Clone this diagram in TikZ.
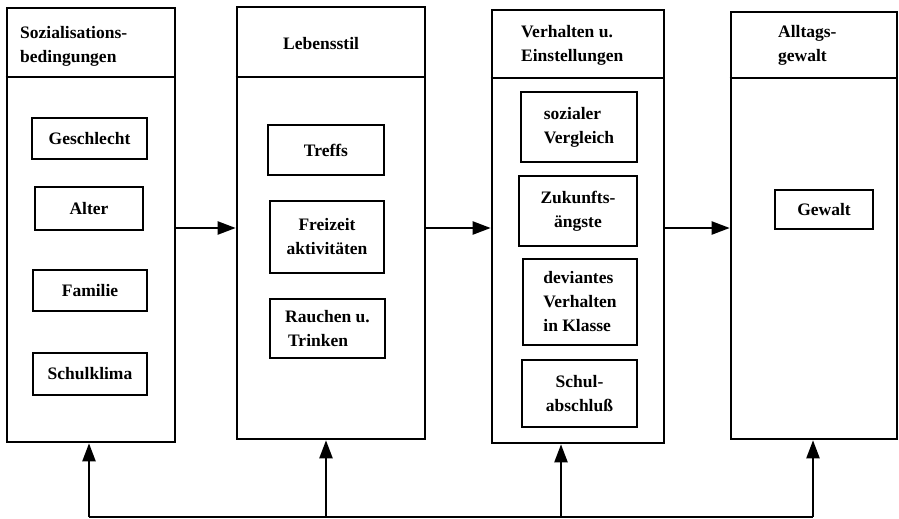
\documentclass[tikz,border=0pt]{standalone}
\usepackage{fontspec}
\setmainfont{Liberation Serif}
\usetikzlibrary{arrows.meta}

\begin{document}
\begin{tikzpicture}[x=1pt,y=-1pt,
   font=\bfseries\fontsize{17.5}{24}\selectfont,
   huelle/.style={draw,line width=2.6pt,inner sep=0pt},
   feld/.style={draw,line width=2.4pt,inner sep=0pt},
   kopf/.style={inner sep=0pt,anchor=west,align=left},
   pfeil/.style={line width=2.2pt,-{Triangle[length=18pt,width=13pt]}}]
\useasboundingbox (0,0) rectangle (899,519);
\node[huelle,minimum width=168pt,minimum height=434pt] (sozial) at (91,225) {};
\node[huelle,minimum width=188pt,minimum height=432pt] (lebensstil) at (331,223) {};
\node[huelle,minimum width=172pt,minimum height=433pt] (verhalten) at (578,226.5) {};
\node[huelle,minimum width=166pt,minimum height=427pt] (alltag) at (814,225.5) {};
\draw[line width=2.6pt] (sozial.west |- 0,77) -- (sozial.east |- 0,77);
\draw[line width=2.6pt] (lebensstil.west |- 0,77) -- (lebensstil.east |- 0,77);
\draw[line width=2.6pt] (verhalten.west |- 0,78) -- (verhalten.east |- 0,78);
\draw[line width=2.6pt] (alltag.west |- 0,78) -- (alltag.east |- 0,78);
\node[kopf] (kopfsozial) at (20,46) {Sozialisations-\\bedingungen};
\node[kopf] (kopfleben) at (283,44) {Lebensstil};
\node[kopf] (kopfverh) at (521,45) {Verhalten u.\\Einstellungen};
\node[kopf] (kopfalltag) at (778,45) {Alltags-\\gewalt};
\node[feld,minimum width=115pt,minimum height=41pt] (geschlecht) at (89.5,138.5) {Geschlecht};
\node[feld,minimum width=108pt,minimum height=43pt] (alter) at (89,208.5) {Alter};
\node[feld,minimum width=114pt,minimum height=41pt] (familie) at (90,290.5) {Familie};
\node[feld,minimum width=114pt,minimum height=42pt] (schulklima) at (90,374) {Schulklima};
\node[feld,minimum width=116pt,minimum height=50pt] (treffs) at (326,150) {Treffs};
\node[feld,minimum width=114pt,minimum height=72pt,align=center] (freizeit) at (327,237) {Freizeit\\aktivitäten};
\node[feld,minimum width=115pt,minimum height=59pt,align=left] (rauchen) at (327.5,328.5) {Rauchen u.\\\,Trinken};
\node[feld,minimum width=116pt,minimum height=70pt,align=left] (vergleich) at (579,127) {sozialer\\Vergleich};
\node[feld,minimum width=118pt,minimum height=70pt,align=center] (zukunft) at (578,211) {Zukunfts-\\ängste};
\node[feld,minimum width=114pt,minimum height=86pt,align=left] (deviant) at (580,302) {deviantes\\Verhalten\\in Klasse};
\node[feld,minimum width=115pt,minimum height=67pt,align=center] (abschluss) at (579.5,393.5) {Schul-\\abschluß};
\node[feld,minimum width=98pt,minimum height=39pt] (gewalt) at (824,209.5) {Gewalt};
\draw[pfeil] (sozial.east |- 0,228) -- (lebensstil.west |- 0,228);
\draw[pfeil] (lebensstil.east |- 0,228) -- (verhalten.west |- 0,228);
\draw[pfeil] (verhalten.east |- 0,228) -- (alltag.west |- 0,228);
\coordinate (rueck1) at (89,517);
\coordinate (rueck2) at (326,517);
\coordinate (rueck3) at (561,517);
\coordinate (rueck4) at (813,517);
\draw[line width=2pt] (rueck1) -- (rueck4);
\draw[pfeil] (rueck1) -- (sozial.south -| rueck1);
\draw[pfeil] (rueck2) -- (lebensstil.south -| rueck2);
\draw[pfeil] (rueck3) -- (verhalten.south -| rueck3);
\draw[pfeil] (rueck4) -- (alltag.south -| rueck4);
\end{tikzpicture}
\end{document}
